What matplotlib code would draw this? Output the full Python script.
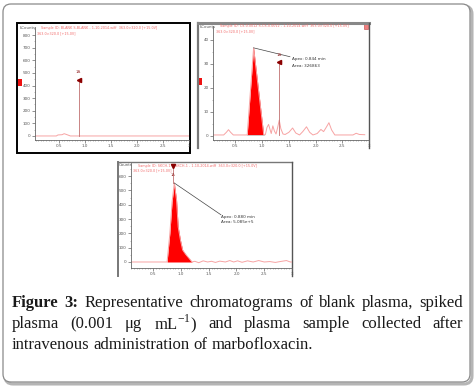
import numpy as np
import matplotlib
matplotlib.use('Agg')
import matplotlib.pyplot as plt
from matplotlib.patches import FancyBboxPatch, Rectangle
from matplotlib.ticker import MultipleLocator

plt.rcParams['mathtext.fontset'] = 'custom'
plt.rcParams['mathtext.rm'] = 'Liberation Serif'

W, H = 476, 386

# ---- data (time in min, signal in counts) ----
blank_t = [0.0, 0.45, 0.48, 0.56, 0.60, 0.63, 0.67, 0.72, 3.0]
blank_s = [0, 0, 8, 10, 18, 14, 8, 0, 0]
blank_marker = (0.88, 445)

spiked_t = [0.08, 0.28, 0.33, 0.37, 0.41, 0.46, 0.72, 0.84, 1.03, 1.06, 1.09, 1.12,
            1.15, 1.17, 1.20, 1.23, 1.26, 1.29, 1.32, 1.35, 1.39, 1.43, 1.50, 1.57,
            1.63, 1.70, 1.76, 1.83, 1.89, 1.95, 2.03, 2.10, 2.15, 2.20, 2.25, 2.30,
            2.36, 2.60, 2.70, 2.76, 2.82, 2.92]
spiked_s = [0.4, 0.4, 1.5, 2.6, 1.5, 0.4, 0.4, 36.7, 0.4, 0.5, 3.5, 4.8,
            2.5, 1.0, 4.2, 2.0, 0.8, 3.5, 6.6, 3.0, 0.8, 0.6, 1.5, 3.3,
            1.2, 0.4, 1.8, 3.8, 1.5, 0.4, 1.0, 2.7, 1.8, 3.6, 5.5, 2.5,
            0.4, 0.4, 0.4, 1.1, 0.6, 0.5]
spiked_peak = (0.72, 1.03)
spiked_marker = (1.32, 31)
spiked_apex = (0.84, 36.7)

sample_t = [0.10, 0.75, 0.80, 0.84, 0.88, 0.92, 0.95, 0.99, 1.03, 1.08, 1.14, 1.20,
            1.25, 1.32, 1.40, 1.48, 1.55, 1.62, 1.70, 1.80, 1.88, 1.95, 2.02, 2.10,
            2.20, 2.30, 2.40, 2.50, 2.60, 2.70, 2.80, 2.90, 2.97, 3.0]
sample_s = [0, 0, 200, 420, 552, 434, 245, 154, 84, 56, 28, 0,
            5, -5, 8, 0, 5, -3, 6, 0, 10, 0, 8, -2,
            8, 0, 10, 0, 3, -3, 4, 10, 0, 0]
sample_peak = (0.75, 1.20)
sample_marker = (0.85, 671)
sample_apex = (0.88, 552)

blank_yticks = [0, 100, 200, 300, 400, 500, 600, 700, 800]
spiked_yticks = [0, 10, 20, 30, 40]
sample_yticks = [0, 100, 200, 300, 400, 500, 600]
xticks = [0.5, 1.0, 1.5, 2.0, 2.5, 3.0]
xticklabels = ['0.5', '1.0', '1.5', '2.0', '2.5', '3']

TRACE = '#f7a3a3'
FILL = '#ff0000'
TITLE = '#f26b6b'
MARK = '#8b0000'
TICK = '#555555'

fig = plt.figure(figsize=(W / 100, H / 100), dpi=100)
bg = fig.add_axes([0, 0, 1, 1])
bg.set_xlim(0, W)
bg.set_ylim(H, 0)
bg.axis('off')


def px(x0, y0, x1, y1):
    return [x0 / W, 1 - y1 / H, (x1 - x0) / W, (y1 - y0) / H]


# outer rounded frame with a light shadow
bg.add_patch(FancyBboxPatch((5, 6), 467, 378, boxstyle='round,pad=0,rounding_size=8',
                            fc='none', ec='#b5b5b5', lw=2.2))
bg.add_patch(FancyBboxPatch((3, 4), 467, 378, boxstyle='round,pad=0,rounding_size=8',
                            fc='white', ec='#8a8a8a', lw=0.9))

# panel frames
bg.add_patch(Rectangle((17, 23), 173, 130, fc='none', ec='black', lw=1.4))
bg.plot([198, 198], [23, 148], color='#777777', lw=1.6)
bg.plot([198, 369], [23, 23], color='#888888', lw=2.2)
bg.plot([369, 369], [23, 148], color='#555555', lw=1.0)
bg.plot([118, 118], [162, 276], color='#777777', lw=1.4)
bg.plot([118, 292], [162, 162], color='#777777', lw=1.0)
bg.plot([292, 292], [162, 276], color='#555555', lw=1.0)
bg.add_patch(Rectangle((18, 79), 3.5, 7, fc='#ee1111', ec='none'))
bg.add_patch(Rectangle((198.5, 78), 3.5, 7, fc='#ee1111', ec='none'))
bg.add_patch(Rectangle((364, 24), 4, 5, fc='#f08080', ec='#c04040', lw=0.4))


def setup(ax, xlim, ylim, yticks, yminor):
    ax.set_xlim(*xlim)
    ax.set_ylim(*ylim)
    ax.set_facecolor('none')
    for s in ['top', 'right']:
        ax.spines[s].set_visible(False)
    for s in ['left', 'bottom']:
        ax.spines[s].set_color('#666666')
        ax.spines[s].set_linewidth(0.6)
    ax.set_xticks(xticks)
    ax.set_xticklabels(xticklabels)
    ax.set_yticks(yticks)
    ax.xaxis.set_minor_locator(MultipleLocator(0.05))
    ax.yaxis.set_minor_locator(MultipleLocator(yminor))
    ax.tick_params(which='major', length=2, width=0.5, color='#666666',
                   labelsize=3, labelcolor=TICK, pad=1)
    ax.tick_params(which='minor', length=1, width=0.4, color='#888888')


def marker(ax, x, ytop, ybot, label, dy=0):
    ax.plot([x, x], [ybot, ytop], color='#c07070', lw=0.6)
    ax.plot([x], [ytop], marker='<', color=MARK, ms=3)
    ax.text(x, ytop + dy, label, fontsize=3, color='#a04040', ha='center', va='bottom')


# blank plasma
ax1 = fig.add_axes(px(35, 27, 189, 140))
setup(ax1, (0.04, 3.0), (-32, 865), blank_yticks, 50)
ax1.plot(blank_t, blank_s, color=TRACE, lw=0.7)
marker(ax1, blank_marker[0], blank_marker[1], 0, '1A', dy=45)

# spiked plasma
ax2 = fig.add_axes(px(213, 26, 369, 140))
setup(ax2, (0.08, 2.92), (-1.7, 45.8), spiked_yticks, 5)
ax2.plot(spiked_t, spiked_s, color=TRACE, lw=0.7)
ax2.plot([0.72, 1.03], [0.4, 0.4], color='#cccccc', lw=0.6)
m = (np.array(spiked_t) >= spiked_peak[0]) & (np.array(spiked_t) <= spiked_peak[1])
ax2.fill_between(np.array(spiked_t)[m], np.array(spiked_s)[m], 0.4, color=FILL, lw=0)
marker(ax2, spiked_marker[0], spiked_marker[1], 0.4, '1A', dy=2)
ax2.plot([spiked_apex[0], 1.52], [spiked_apex[1], 33.0], color='#444444', lw=0.5)
ax2.text(1.55, 32.0, 'Apex: 0.844 min', fontsize=3, color='#333333', va='center')
ax2.text(1.55, 29.2, 'Area: 326863', fontsize=3, color='#333333', va='center')

# plasma sample
ax3 = fig.add_axes(px(131, 163, 292, 268))
setup(ax3, (0.1, 3.0), (-42, 692), sample_yticks, 50)
ax3.plot(sample_t, sample_s, color=TRACE, lw=0.7)
m = (np.array(sample_t) >= sample_peak[0]) & (np.array(sample_t) <= sample_peak[1])
ax3.fill_between(np.array(sample_t)[m], np.array(sample_s)[m], 0, color=FILL, lw=0)
ax3.plot([sample_marker[0]] * 2, [sample_apex[1], sample_marker[1]], color='#c07070', lw=0.6)
ax3.plot([sample_marker[0]], [sample_marker[1]], marker='v', color=MARK, ms=3)
ax3.text(sample_marker[0], 625, '1A', fontsize=2.6, color='#a04040', ha='center', va='top')
ax3.plot([sample_apex[0], 1.72], [sample_apex[1], 330], color='#444444', lw=0.5)
ax3.text(1.72, 318, 'Apex: 0.880 min', fontsize=3, color='#333333', va='center')
ax3.text(1.72, 278, 'Area: 5.085e+5', fontsize=3, color='#333333', va='center')

# instrument header texts
hdr = dict(fontsize=2.4, color=TITLE, va='center')
bg.text(20, 28, 'kCounts', fontsize=2.8, color=TICK, va='center')
bg.text(41, 28.5, 'Sample ID: BLANK S-BLANK - 1-10-2014.wiff  363.0>320.0 [+15.0V]', **hdr)
bg.text(37, 33.5, '363.0>320.0 [+15.0V]', **hdr)
bg.text(200, 26.5, 'kCounts', fontsize=2.8, color=TICK, va='center')
bg.text(220, 26.5, 'Sample ID: CS-0.0012 S-CS-0.0012 - 1-10-2014.wiff  363.0>320.0 [+15.0V]', **hdr)
bg.text(216, 31, '363.0>320.0 [+15.0V]', **hdr)
bg.text(119, 165.5, 'Counts', fontsize=2.8, color=TICK, va='center')
bg.text(138, 165.5, 'Sample ID: SKCH-1 S-SKCH-1 - 1-10-2014.wiff  363.0>320.0 [+15.0V]', **hdr)
bg.text(133, 170.5, '363.0>320.0 [+15.0V]', **hdr)

# caption, justified like the source
cap_font = dict(fontsize=12, family='Liberation Serif', color='#1a1a1a', va='center')
lines = [
    [('Figure', 'bold'), ('3:', 'bold'), ('Representative', 'normal'), ('chromatograms', 'normal'),
     ('of', 'normal'), ('blank', 'normal'), ('plasma,', 'normal'), ('spiked', 'normal')],
    [('plasma', 'normal'), ('(0.001', 'normal'), ('μg', 'normal'), (r'mL$^{\mathrm{-1}}$)', 'normal'),
     ('and', 'normal'), ('plasma', 'normal'), ('sample', 'normal'), ('collected', 'normal'),
     ('after', 'normal')],
    [('intravenous', 'normal'), ('administration', 'normal'), ('of', 'normal'),
     ('marbofloxacin.', 'normal')],
]
line_y = [303, 324, 345]
x_left, x_right = 12, 463
renderer = fig.canvas.get_renderer()
for i, (words, y) in enumerate(zip(lines, line_y)):
    texts = [bg.text(0, y, w, fontweight=wt, **cap_font) for w, wt in words]
    widths = [t.get_window_extent(renderer).width for t in texts]
    if i < len(lines) - 1:
        gap = (x_right - x_left - sum(widths)) / (len(words) - 1)
    else:
        gap = 4.0
    x = x_left
    for t, w in zip(texts, widths):
        t.set_x(x)
        x += w + gap

fig.savefig('out.png', dpi=100)
